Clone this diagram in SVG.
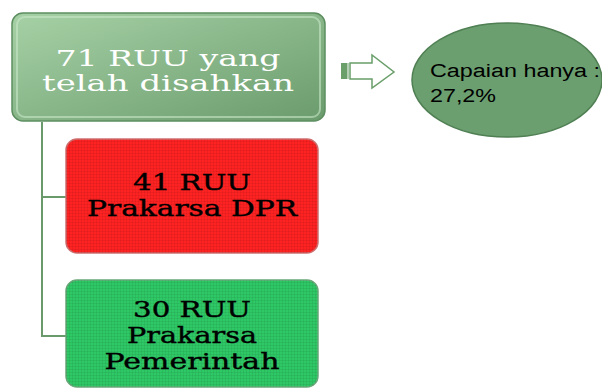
<svg xmlns="http://www.w3.org/2000/svg" width="602" height="388" viewBox="0 0 602 388">
<defs>
<linearGradient id="gTop" x1="0" y1="0" x2="1" y2="1">
<stop offset="0" stop-color="#a6d1a6"/>
<stop offset="1" stop-color="#6b9c6d"/>
</linearGradient>
<pattern id="grid" width="3" height="3" patternUnits="userSpaceOnUse">
<path d="M0 0.5H3M0.5 0V3" stroke="#000" stroke-opacity="0.06" stroke-width="1"/>
</pattern>
</defs>
<style>
.serif{font-family:"DejaVu Serif","Liberation Serif",serif;font-size:23px;text-anchor:middle}
.dark{fill:#000;stroke:#000;stroke-width:0.4}
.sans{font-family:"Liberation Sans",Arial,sans-serif;font-size:18px;fill:#000}
.conn{stroke:#6a9a6c;stroke-width:2;fill:none}
</style>
<g id="connectors">
<path class="conn" d="M42 122V336H66M42 197H66"/>
</g>
<g id="node-top">
<rect x="12" y="13" width="313" height="108" rx="11" fill="url(#gTop)" stroke="#5d8e60" stroke-width="1.5"/>
<rect x="17" y="17" width="303" height="100" rx="8" fill="none" stroke="#c8e6c8" stroke-opacity="0.6" stroke-width="2"/>
<text class="serif" fill="#ffffff" x="168" y="66" textLength="225" lengthAdjust="spacingAndGlyphs">71 RUU yang</text>
<text class="serif" fill="#ffffff" x="168" y="91" textLength="252" lengthAdjust="spacingAndGlyphs">telah disahkan</text>
</g>
<g id="node-dpr">
<rect x="66" y="139" width="252" height="114" rx="11" fill="#fe2222" stroke="#d07070" stroke-width="1.5"/>
<rect x="66" y="139" width="252" height="114" rx="11" fill="url(#grid)"/>
<text class="serif dark" x="192" y="190" textLength="118" lengthAdjust="spacingAndGlyphs">41 RUU</text>
<text class="serif dark" x="192" y="216" textLength="210" lengthAdjust="spacingAndGlyphs">Prakarsa DPR</text>
</g>
<g id="node-pemerintah">
<rect x="66" y="280" width="252" height="107" rx="11" fill="#2fc866" stroke="#6aa87a" stroke-width="1.5"/>
<rect x="66" y="280" width="252" height="107" rx="11" fill="url(#grid)"/>
<text class="serif dark" x="192" y="317" textLength="118" lengthAdjust="spacingAndGlyphs">30 RUU</text>
<text class="serif dark" x="192" y="343" textLength="130" lengthAdjust="spacingAndGlyphs">Prakarsa</text>
<text class="serif dark" x="192" y="369" textLength="175" lengthAdjust="spacingAndGlyphs">Pemerintah</text>
</g>
<g id="arrow">
<rect x="341" y="63" width="6" height="16" fill="#6a9f6a"/>
<path d="M348 63V79" stroke="#6a9f6a" stroke-width="1"/>
<path d="M350 63H372V55L394 72L372 88V79H350Z" fill="#fff" stroke="#6a9f6a" stroke-width="1.5"/>
</g>
<g id="node-capaian">
<ellipse cx="507" cy="80" rx="95" ry="57" fill="#6b9f6f" stroke="#4f7f53" stroke-width="1.5"/>
<text class="sans" x="430" y="77" textLength="170" lengthAdjust="spacingAndGlyphs">Capaian hanya :</text>
<text class="sans" x="430" y="102" textLength="66" lengthAdjust="spacingAndGlyphs">27,2%</text>
</g>
</svg>
